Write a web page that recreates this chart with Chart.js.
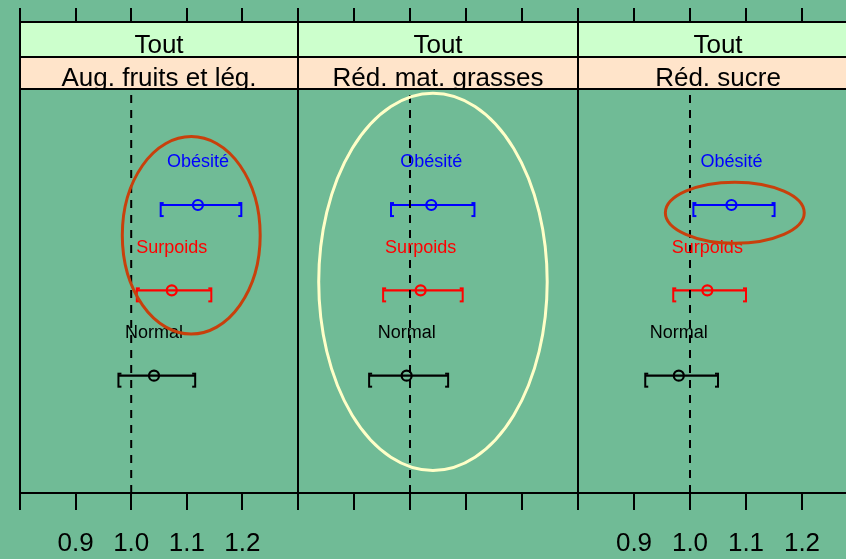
<!DOCTYPE html>
<html>
<head>
<meta charset="utf-8">
<script src="https://cdn.jsdelivr.net/npm/chart.js@4/dist/chart.umd.min.js"></script>
<style>
  html, body { margin: 0; padding: 0; width: 846px; height: 559px; overflow: hidden; background: #70BB96; }
  canvas { position: absolute; top: 0; }
</style>
</head>
<body>
<script>
// Relative risk by weight group, one panel per dietary change
const groups = ['Normal', 'Surpoids', 'Obésité'];
const groupColors = ['#000000', '#FF0000', '#0000FF'];
const groupRows = [1, 2, 3];
const outerStrip = 'Tout';
const panelTitles = ['Aug. fruits et lég.', 'Réd. mat. grasses', 'Réd. sucre'];

// point estimates and confidence bounds, panel by panel, in group order
const estimates = [
  [1.041, 1.073, 1.120],
  [0.994, 1.019, 1.038],
  [0.980, 1.031, 1.074]
];
const lowerCI = [
  [0.977, 1.010, 1.053],
  [0.927, 0.952, 0.966],
  [0.920, 0.970, 1.006]
];
const upperCI = [
  [1.115, 1.144, 1.198],
  [1.068, 1.094, 1.115],
  [1.050, 1.100, 1.151]
];
const tickValues = [0.8, 0.9, 1.0, 1.1, 1.2, 1.3];
const referenceValue = 1.0;

// hand-drawn highlight rings, in axis units
const highlights = [
  { cx: 1.108, cy: 2.645, rx: 0.124, ry: 1.157, color: '#C8400C' },
  { cx: 1.041, cy: 2.100, rx: 0.204, ry: 2.210, color: '#FFFFC8' },
  { cx: 1.080, cy: 2.909, rx: 0.124, ry: 0.358, color: '#C8400C' }
];

// page layout
const panelLefts = [20, 298, 578];
const panelWidths = [278, 280, 280];
const margin = 20;
const yMin = -0.375, yMax = 5.145;
const FONT = '"Liberation Sans", Arial, sans-serif';

function bracketImage(color, side) {
  const c = document.createElement('canvas');
  c.width = 12; c.height = 30;
  const g = c.getContext('2d');
  g.strokeStyle = color;
  g.lineWidth = 2;
  const x = 6, top = 13, bot = 26, d = side === 'left' ? 3 : -3;
  g.beginPath();
  g.moveTo(x + d, top); g.lineTo(x, top); g.lineTo(x, bot); g.lineTo(x + d, bot);
  g.stroke();
  return c;
}

const panelDecor = {
  id: 'panelDecor',
  afterDatasetsDraw(chart, args, opts) {
    const { ctx, chartArea: ca, scales: { x, y } } = chart;
    const p = opts.panel;
    ctx.save();
    // group labels above each interval
    ctx.font = '18px ' + FONT;
    ctx.textAlign = 'center';
    ctx.textBaseline = 'middle';
    groups.forEach((name, i) => {
      ctx.fillStyle = groupColors[i];
      ctx.fillText(name, x.getPixelForValue(estimates[p][i]), y.getPixelForValue(groupRows[i] + 0.5));
    });
    // strips
    const t0 = ca.top, t1 = ca.top + 35, t2 = ca.top + 67;
    const cx = (ca.left + ca.right) / 2;
    ctx.fillStyle = '#CCFFCC';
    ctx.fillRect(ca.left, t0, ca.right - ca.left, t1 - t0);
    ctx.fillStyle = '#FFE4CA';
    ctx.fillRect(ca.left, t1, ca.right - ca.left, t2 - t1);
    ctx.fillStyle = '#000';
    ctx.font = '26px ' + FONT;
    ctx.textBaseline = 'alphabetic';
    ctx.save();
    ctx.beginPath(); ctx.rect(ca.left, t0, ca.right - ca.left, t1 - t0); ctx.clip();
    ctx.fillText(outerStrip, cx, t0 + 31);
    ctx.restore();
    ctx.save();
    ctx.beginPath(); ctx.rect(ca.left, t1, ca.right - ca.left, t2 - t1); ctx.clip();
    ctx.fillText(panelTitles[p], cx, t1 + 29);
    ctx.restore();
    ctx.strokeStyle = '#000';
    ctx.lineWidth = 2;
    ctx.beginPath();
    ctx.moveTo(ca.left, t1); ctx.lineTo(ca.right, t1);
    ctx.moveTo(ca.left, t2); ctx.lineTo(ca.right, t2);
    ctx.stroke();
    // highlight ring
    const h = highlights[p];
    const ex = x.getPixelForValue(h.cx), ey = y.getPixelForValue(h.cy);
    const erx = Math.abs(x.getPixelForValue(h.cx + h.rx) - ex);
    const ery = Math.abs(y.getPixelForValue(h.cy + h.ry) - ey);
    ctx.strokeStyle = h.color;
    ctx.lineWidth = 3;
    ctx.beginPath();
    ctx.ellipse(ex, ey, erx, ery, 0, 0, Math.PI * 2);
    ctx.stroke();
    // panel frame
    ctx.strokeStyle = '#000';
    ctx.lineWidth = 2;
    ctx.strokeRect(ca.left, ca.top, ca.right - ca.left, ca.bottom - ca.top);
    ctx.restore();
  }
};

function buildPanel(p) {
  const canvas = document.createElement('canvas');
  canvas.width = panelWidths[p] + 2 * margin;
  canvas.height = 559;
  canvas.style.left = (panelLefts[p] - margin) + 'px';
  document.body.appendChild(canvas);

  const datasets = [];
  datasets.push({
    type: 'line',
    data: [{ x: referenceValue, y: yMin }, { x: referenceValue, y: yMax }],
    borderColor: '#000', borderWidth: 2, borderDash: [8, 7], pointRadius: 0
  });
  groups.forEach((g, i) => {
    const row = groupRows[i], col = groupColors[i];
    datasets.push({
      type: 'line',
      data: [{ x: lowerCI[p][i], y: row }, { x: upperCI[p][i], y: row }],
      borderColor: col, borderWidth: 2.2, pointRadius: 0
    });
    datasets.push({
      type: 'scatter',
      data: [{ x: lowerCI[p][i], y: row }],
      pointStyle: bracketImage(col, 'left'), pointRadius: 6
    });
    datasets.push({
      type: 'scatter',
      data: [{ x: upperCI[p][i], y: row }],
      pointStyle: bracketImage(col, 'right'), pointRadius: 6
    });
    datasets.push({
      type: 'scatter',
      data: [{ x: estimates[p][i], y: row }],
      pointStyle: 'circle', pointRadius: 5, borderWidth: 2.2,
      borderColor: col, backgroundColor: 'rgba(0,0,0,0)'
    });
  });

  const showBottomLabels = p !== 1;
  const tickCfg = {
    autoSkip: false, maxRotation: 0, color: '#000',
    font: { family: FONT, size: 26 },
    callback: v => (v === tickValues[0] || v === tickValues[tickValues.length - 1]) ? '' : Number(v).toFixed(1)
  };

  new Chart(canvas, {
    type: 'scatter',
    data: { datasets },
    options: {
      responsive: false,
      animation: false,
      devicePixelRatio: 1,
      layout: { padding: { left: margin, right: margin, top: 0, bottom: 0 } },
      plugins: { legend: { display: false }, tooltip: { enabled: false }, panelDecor: { panel: p } },
      scales: {
        x: {
          type: 'linear', position: 'bottom',
          min: tickValues[0], max: tickValues[tickValues.length - 1],
          afterBuildTicks: s => { s.ticks = tickValues.map(v => ({ value: v })); },
          afterFit: s => { s.height = 66; },
          grid: { drawOnChartArea: false, drawTicks: true, tickLength: 17, color: '#000', lineWidth: 2 },
          border: { display: true, color: '#000', width: 2 },
          ticks: Object.assign({}, tickCfg, { display: showBottomLabels, padding: 18 })
        },
        xTop: {
          type: 'linear', position: 'top', axis: 'x',
          min: tickValues[0], max: tickValues[tickValues.length - 1],
          afterBuildTicks: s => { s.ticks = tickValues.map(v => ({ value: v })); },
          afterFit: s => { s.height = 22; },
          grid: { drawOnChartArea: false, drawTicks: true, tickLength: 14, color: '#000', lineWidth: 2 },
          border: { display: true, color: '#000', width: 2 },
          ticks: Object.assign({}, tickCfg, { display: false })
        },
        y: { type: 'linear', display: false, min: yMin, max: yMax }
      }
    },
    plugins: [panelDecor]
  });
}

[0, 1, 2].forEach(buildPanel);
</script>
</body>
</html>
